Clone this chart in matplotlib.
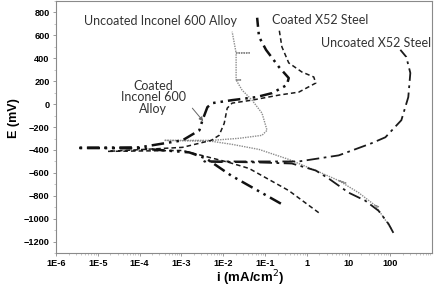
import matplotlib
matplotlib.use("Agg")
import matplotlib.pyplot as plt
from matplotlib.ticker import FixedLocator, MultipleLocator, NullFormatter, LogLocator

# current density (mA/cm2) and potential (mV)
coated_inconel_i = [0.24, 0.0155, 0.0039, 0.00155, 1e-4, 3.2e-6, 1e-4, 1.06e-3, 2.7e-3, 3.2e-3,
                    4.2e-3, 5.5e-3, 0.0164, 0.061, 0.147, 0.334, 0.37, 0.215, 0.106, 0.072, 0.065]
coated_inconel_e = [-868, -623, -474, -421, -386, -382, -377, -316, -228, -140,
                    -26, 9, 35, 61, 96, 167, 228, 325, 474, 588, 754]

coated_x52_i = [1.93, 0.37, 0.0416, 0.0139, 1.06e-3, 1.73e-5, 1.06e-3, 5.2e-3, 8.0e-3, 0.0106,
                0.0125, 0.0164, 0.049, 0.215, 0.645, 1.64, 1.47, 0.76, 0.37, 0.254, 0.215]
coated_x52_e = [-947, -754, -561, -509, -404, -412, -377, -316, -272, -167,
                -35, 9, 35, 79, 105, 184, 237, 281, 360, 500, 667]

uncoated_inconel_i = [106, 44, 52, 44, 17.3, 5.8, 8.9, 5.8, 1.64, 0.37, 0.072, 0.0164, 5.5e-3,
                      3.9e-4, 5.5e-3, 0.024, 0.085, 0.112, 0.085, 0.049, 0.0283, 0.0204,
                      0.026, 0.0204, 0.0204, 0.042, 0.0204, 0.0164]
uncoated_inconel_e = [-1088, -886, -895, -886, -772, -667, -690, -667, -579, -482, -395, -351, -325,
                      -316, -316, -298, -272, -228, -79, 35, 123, 211,
                      211, 211, 447, 447, 447, 632]

uncoated_x52_i = [118, 90, 52, 25, 10, 3.34, 1.64, 0.44, 0.072, 3.5e-3, 0.072, 0.645,
                  5.8, 35, 76, 183, 268, 300, 240, 173]
uncoated_x52_e = [-1123, -1044, -930, -842, -772, -649, -579, -518, -509, -500, -500, -500,
                  -447, -342, -289, -140, 61, 272, 412, 474]

x_ticks = [1e-6, 1e-5, 1e-4, 1e-3, 1e-2, 1e-1, 1, 10, 100]
x_labels = ["1E-6", "1E-5", "1E-4", "1E-3", "1E-2", "1E-1", "1", "10", "100"]
y_ticks = [-1200, -1000, -800, -600, -400, -200, 0, 200, 400, 600, 800]

fig = plt.figure(figsize=(4.37, 2.87), dpi=100)
ax = fig.add_axes([0.128, 0.118, 0.861, 0.8785])

ax.plot(uncoated_inconel_i, uncoated_inconel_e, color="#8c8c8c", lw=1.0, ls=(0, (1, 0.8)))
ax.plot(coated_x52_i, coated_x52_e, color="#1a1a1a", lw=1.1, ls=(0, (3, 2)))
ax.plot(uncoated_x52_i, uncoated_x52_e, color="#1a1a1a", lw=1.3, ls=(0, (7, 2.5, 1.5, 2.5)))
ax.plot(coated_inconel_i, coated_inconel_e, color="#111111", lw=1.8,
        ls=(0, (5, 2, 1, 2, 1, 2)))

ax.set_xscale("log")
ax.set_xlim(1e-6, 1e3)
ax.set_ylim(-1300, 900)
ax.xaxis.set_major_locator(FixedLocator(x_ticks))
ax.set_xticklabels(x_labels)
ax.xaxis.set_minor_locator(LogLocator(base=10, subs=range(2, 10), numticks=20))
ax.xaxis.set_minor_formatter(NullFormatter())
ax.set_yticks(y_ticks)
ax.yaxis.set_minor_locator(MultipleLocator(100))

for lab in ax.get_xticklabels() + ax.get_yticklabels():
    lab.set_fontfamily("Liberation Sans")
    lab.set_fontweight("bold")
    lab.set_fontsize(6.6)
ax.tick_params(which="major", direction="out", length=2.5, width=0.6, color="#8a8a8a", pad=2)
ax.tick_params(which="minor", direction="out", length=1.5, width=0.5, color="#b0b0b0")
for s in ax.spines.values():
    s.set_color("#8a8a8a")
    s.set_linewidth(0.8)

fig.text(0.032, 0.59, "E (mV)", rotation=90, ha="center", va="center",
         fontfamily="Liberation Sans", fontweight="bold", fontsize=9)
fig.text(0.572, 0.03, "i (mA/cm$^{2}$)", ha="center", va="center",
         fontfamily="Liberation Sans", fontweight="bold", fontsize=9.5)

lab_font = dict(fontfamily="Lato", fontsize=9, color="#333333", ha="center", va="center")
ax.text(3.2e-4, 728, "Uncoated Inconel 600 Alloy", **lab_font)
ax.text(2.15, 737, "Coated X52 Steel", **lab_font)
ax.text(46, 535, "Uncoated X52 Steel", **lab_font)
ax.text(2.15e-4, 61, "Coated\nInconel 600\nAlloy", linespacing=0.95, **lab_font)
ax.annotate("", xy=(3.34e-3, -149), xytext=(1.83e-3, -35),
            arrowprops=dict(arrowstyle="-|>", color="#666666", lw=0.7,
                            mutation_scale=6, shrinkA=0, shrinkB=0))

fig.savefig("out.png", dpi=100)
